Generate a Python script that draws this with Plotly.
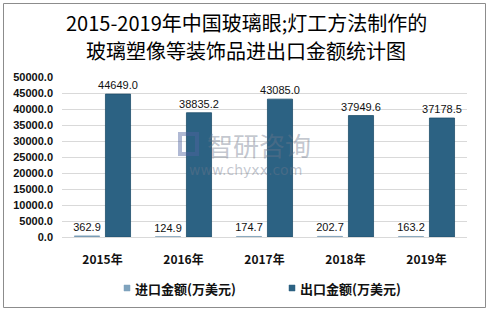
import plotly.graph_objects as go

categories = ["2015年", "2016年", "2017年", "2018年", "2019年"]
import_vals = [362.9, 124.9, 174.7, 202.7, 163.2]
export_vals = [44649.0, 38835.2, 43085.0, 37949.6, 37178.5]
series_names = ["进口金额(万美元)", "出口金额(万美元)"]
series_colors = ["#7fa3bd", "#2c6283"]
y_ticks = [0, 5000, 10000, 15000, 20000, 25000, 30000, 35000, 40000, 45000, 50000]
title_lines = ["2015-2019年中国玻璃眼;灯工方法制作的", "玻璃塑像等装饰品进出口金额统计图"]

W, H = 489, 311
L, R, T, B = 62, 22, 77, 74
pw, ph = W - L - R, H - T - B

num_font = dict(family="Liberation Sans, Arial", size=11, color="#111")

fig = go.Figure()
fig.add_trace(go.Bar(
    x=categories, y=import_vals, name=series_names[0],
    marker=dict(color=series_colors[0], line=dict(color="#6f93ad", width=0.5)),
    text=[f"{v:.1f}" for v in import_vals], textposition="outside",
    textfont=num_font, cliponaxis=False, constraintext="none",
))
fig.add_trace(go.Bar(
    x=categories, y=export_vals, name=series_names[1],
    marker=dict(color=series_colors[1], line=dict(color="#1f4f6c", width=0.8)),
    text=[f"{v:.1f}" for v in export_vals], textposition="outside",
    textfont=num_font, cliponaxis=False, constraintext="none",
))

def px_x(p):
    return (p - L) / pw

def px_y(p):
    return (H - B - p) / ph

# outer frame
fig.add_shape(type="rect", xref="paper", yref="paper",
              x0=px_x(3.5), x1=px_x(485.5), y0=px_y(3.5), y1=px_y(307.5),
              line=dict(color="#8c8c8c", width=1), layer="below")

# title (two lines)
for i, line in enumerate(title_lines):
    fig.add_annotation(xref="paper", yref="paper", x=px_x(246), y=px_y(22 + 28 * i),
                       text=line, showarrow=False, xanchor="center", yanchor="middle",
                       font=dict(family="Noto Sans CJK SC", size=20, color="#000"))

# watermark
wm = "rgba(110,120,140,0.42)"
fig.add_annotation(xref="paper", yref="paper", x=px_x(259), y=px_y(144),
                   text="智研咨询", showarrow=False, xanchor="center", yanchor="middle",
                   font=dict(family="Noto Sans CJK SC", size=26, color=wm))
fig.add_annotation(xref="paper", yref="paper", x=px_x(245), y=px_y(170),
                   text="www.chyxx.com", showarrow=False, xanchor="center", yanchor="middle",
                   font=dict(family="DejaVu Sans", size=14, color=wm))
fig.add_shape(type="rect", xref="paper", yref="paper",
              x0=px_x(180), x1=px_x(197), y0=px_y(154), y1=px_y(134),
              line=dict(color="rgba(80,100,160,0.45)", width=4))

# manual legend
legend_x = [124, 289]
for name, col, lx in zip(series_names, series_colors, legend_x):
    fig.add_shape(type="rect", xref="paper", yref="paper",
                  x0=px_x(lx), x1=px_x(lx + 6), y0=px_y(291), y1=px_y(285),
                  fillcolor=col, line=dict(color=col, width=0.5))
    fig.add_annotation(xref="paper", yref="paper", x=px_x(lx + 9), y=px_y(288),
                       text=name, showarrow=False, xanchor="left", yanchor="middle",
                       font=dict(family="Noto Sans CJK SC", size=13, color="#111", weight="bold"))

fig.update_layout(
    width=W, height=H,
    margin=dict(l=L, r=R, t=T, b=B),
    paper_bgcolor="white", plot_bgcolor="white",
    barmode="group", bargap=0.235, bargroupgap=0.19,
    showlegend=False,
    xaxis=dict(showgrid=False, showline=True, linecolor="#d9d9d9",
               tickfont=dict(family="Noto Sans CJK SC", size=12, color="#111", weight="bold"),
               ticks="", ticklabelstandoff=12),
    yaxis=dict(range=[0, 50000], tickvals=y_ticks, tickformat=".1f",
               showgrid=True, gridcolor="#d9d9d9", zeroline=False, showline=False,
               tickfont=dict(family="Liberation Sans, Arial", size=11, color="#111", weight="bold"),
               ticks="", ticklabelstandoff=8),
)

fig.write_html("out.html")
